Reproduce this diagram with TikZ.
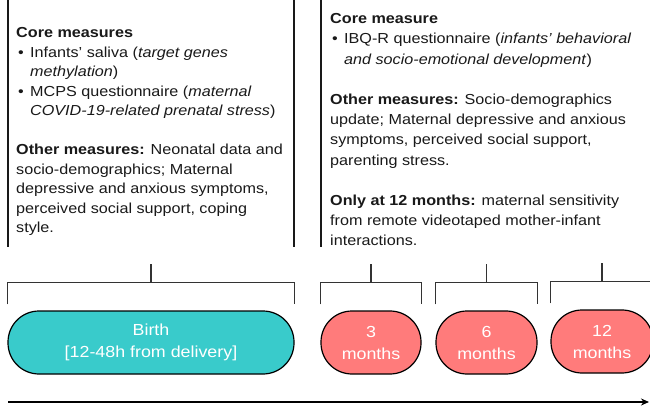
\documentclass[tikz,border=0pt]{standalone}
\usepackage{fontspec}
\setmainfont{Liberation Sans}[FakeStretch=1.115]
\usetikzlibrary{arrows.meta,calc}
\definecolor{tealc}{RGB}{57,203,203}
\definecolor{pinkc}{RGB}{255,123,123}
\newcommand\mybul{\makebox[14pt][l]{\hspace{2pt}•}}
\newcommand\myind{\hspace*{14pt}}
\begin{document}
\begin{tikzpicture}[x=1pt,y=1pt,
  vline/.style={line width=1.6pt, black!90},
  brk/.style={line width=1.3pt, black!80},
  pill/.style={draw=black, line width=1.2pt, rounded corners=31pt, minimum height=63pt,
    inner sep=0pt, text=white, align=center, font=\fontsize{16}{22}\selectfont},
  birthpill/.style={pill, fill=tealc},
  monthpill/.style={pill, fill=pinkc},
  body/.style={align=left, inner sep=0pt, anchor=base west, text=black!90},
  axis/.style={line width=1.8pt, -{Stealth[length=8pt,width=7pt]}},
]
\useasboundingbox (0,0) rectangle (650,407);
\clip (0,0) rectangle (650,407);

% divider lines
\draw[vline] (8,407) -- (8,160);
\draw[vline] (294,407) -- (294,160);
\draw[vline] (321,407) -- (321,160);

% text blocks (anchored at the baseline of their last line)
\node[body, font=\fontsize{14.5}{19.5}\selectfont] (left) at (16,174) {\textbf{Core measures}\\
\mybul Infants’ saliva (\textit{target genes}\\
\myind\textit{methylation})\\
\mybul MCPS questionnaire (\textit{maternal}\\
\myind\textit{COVID-19-related prenatal stress})\\[19.5pt]
\textbf{Other measures:} Neonatal data and\\
socio-demographics; Maternal\\
depressive and anxious symptoms,\\
perceived social support, coping\\
style.};

\node[body, font=\fontsize{14.5}{20.2}\selectfont] (right) at (330,161) {\textbf{Core measure}\\
\mybul IBQ-R questionnaire (\textit{infants’ behavioral}\\
\myind\textit{and socio-emotional development})\\[20.2pt]
\textbf{Other measures:} Socio-demographics\\
update; Maternal depressive and anxious\\
symptoms, perceived social support,\\
parenting stress.\\[20.2pt]
\textbf{Only at 12 months:} maternal sensitivity\\
from remote videotaped mother-infant\\
interactions.};

% time points
\node[birthpill, minimum width=286pt] (birth) at (151,64.5) {Birth\\{[}12-48h from delivery{]}};
\node[monthpill, minimum width=100pt] (m3) at (371,64.5) {3\\months};
\node[monthpill, minimum width=101pt] (m6) at (486.5,64.5) {6\\months};
\node[monthpill, minimum width=102pt] (m12) at (602,65.5) {12\\months};

% brackets
\foreach \n in {birth,m3,m6,m12}{
  \draw[brk] ($(\n.north west)+(0,6)$) -- ($(\n.north west)+(0,28)$)
     -- ($(\n.north east)+(0,28)$) -- ($(\n.north east)+(0,6)$);
  \draw[brk] ($(\n.north)+(0,28)$) -- ($(\n.north)+(0,46)$);
}

% time axis
\coordinate (ax0) at (8,5);
\coordinate (ax1) at (649,5);
\draw[axis] (ax0) -- (ax1);
\end{tikzpicture}
\end{document}
